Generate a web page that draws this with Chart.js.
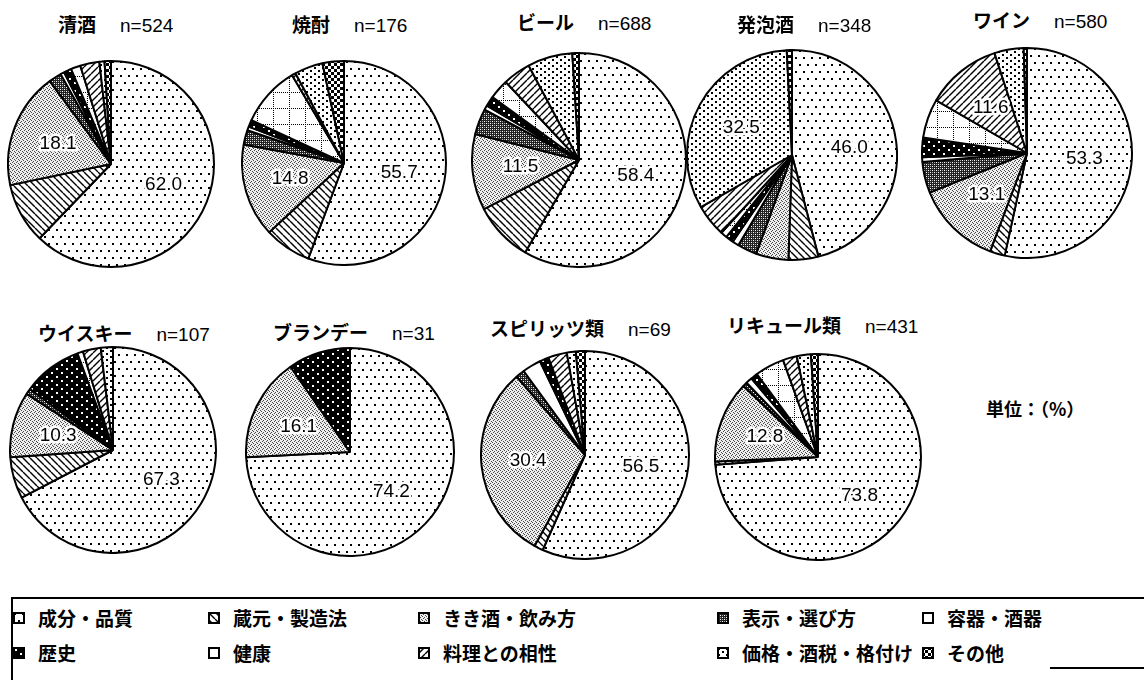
<!DOCTYPE html>
<html lang="ja">
<head>
<meta charset="utf-8">
<title>酒類別 関心のある情報</title>
<script src="https://cdn.jsdelivr.net/npm/chart.js@4.4.1/dist/chart.umd.min.js"></script>
<style>
  html, body { margin: 0; padding: 0; background: #fff; }
  body {
    width: 1144px; height: 680px; position: relative; overflow: hidden;
    font-family: "Noto Sans CJK JP", sans-serif; color: #000;
  }
  .pie { position: absolute; }
  .title {
    position: absolute; font-size: 19px; font-weight: bold;
    white-space: nowrap; line-height: 20px;
  }
  .title .n {
    font-family: "Liberation Sans", Arial, sans-serif; font-weight: normal;
    margin-left: 24px;
  }
  .unit {
    position: absolute; left: 986px; top: 397px;
    font-size: 18px; font-weight: bold; line-height: 22px; white-space: nowrap;
  }
  .legend-box {
    position: absolute; left: 11px; top: 597px; width: 1140px; height: 100px;
    border-top: 2px solid #000; border-left: 2px solid #000;
  }
  .legend-tail {
    position: absolute; left: 1050px; top: 667px; width: 94px; height: 0;
    border-top: 2px solid #000;
  }
  .item {
    position: absolute; height: 24px; line-height: 24px;
    font-size: 19px; font-weight: bold; white-space: nowrap;
  }
  .item canvas { position: absolute; left: 0; top: 6px; }
  .item span { position: absolute; left: 25px; top: 0; }
</style>
</head>
<body>

<script>
// 項目 (凡例の順 = 各円グラフの時計回りの順)
const categories = ['成分・品質', '蔵元・製造法', 'きき酒・飲み方', '表示・選び方', '容器・酒器',
                    '歴史', '健康', '料理との相性', '価格・酒税・格付け', 'その他'];

const drinkNames = ['清酒', '焼酎', 'ビール', '発泡酒', 'ワイン',
                    'ウイスキー', 'ブランデー', 'スピリッツ類', 'リキュール類'];
const sampleSizes = [524, 176, 688, 348, 580, 107, 31, 69, 431];

// 単位：(%)  — 10 項目ずつ
const seishu   = [62.0, 9.5, 18.1, 2.0, 0.6, 1.2, 1.5, 3.0, 0.8, 1.0];
const shochu   = [55.7, 7.4, 14.8, 2.3, 0.6, 1.1, 9.6, 0.6, 4.5, 3.4];
const beer     = [58.4, 9.0, 11.5, 3.9, 0.7, 1.5, 3.0, 4.2, 6.8, 1.0];
const happoshu = [46.0, 4.6, 5.0, 3.0, 1.0, 1.2, 1.0, 5.0, 32.5, 0.8];
const wine     = [53.3, 2.3, 13.1, 4.8, 0.7, 3.0, 6.0, 11.6, 4.5, 0.5];
const whisky   = [67.3, 6.5, 10.3, 0.9, 0, 9.3, 0.9, 2.8, 1.9, 0];
const brandy   = [74.2, 0, 16.1, 0, 0, 9.7, 0, 0, 0, 0];
const spirits  = [56.5, 1.4, 30.4, 1.4, 2.9, 1.4, 0, 2.9, 1.4, 1.4];
const liqueur  = [73.8, 0.5, 12.8, 0.7, 1.0, 1.1, 4.6, 2.2, 2.2, 1.1];

const pieValues = [seishu, shochu, beer, happoshu, wine, whisky, brandy, spirits, liqueur];

// 値ラベルを付けるしきい値 (%)
const labelMin = 10;

// ---- 配置 (円の中心と半径、タイトル位置) ----
const pieLayout = [
  { cx: 111, cy: 164, r: 102, tx: 58,  ty: 14 },
  { cx: 344, cy: 163, r: 101, tx: 292, ty: 14 },
  { cx: 579, cy: 160, r: 106, tx: 517, ty: 12 },
  { cx: 792, cy: 155, r: 104, tx: 737, ty: 14 },
  { cx: 1027, cy: 153, r: 104, tx: 973, ty: 10 },
  { cx: 113, cy: 450, r: 102, tx: 38,  ty: 323 },
  { cx: 350, cy: 452, r: 103, tx: 273, ty: 322 },
  { cx: 585, cy: 455, r: 103, tx: 490, ty: 318 },
  { cx: 818, cy: 457, r: 102, tx: 727, ty: 315 }
];
const legendCols = [13, 208, 418, 717, 922];
const legendRows = [606, 641];

// ---- 網掛けパターン ----
function tile(w, h, draw) {
  const c = document.createElement('canvas');
  c.width = w; c.height = h;
  const g = c.getContext('2d');
  draw(g, w, h);
  return g.createPattern(c, 'repeat');
}
function px(g, color, pts, s) {
  g.fillStyle = color;
  pts.forEach(p => g.fillRect(p[0], p[1], s || 1, s || 1));
}
function diag(g, w, back) {
  g.strokeStyle = '#000'; g.lineWidth = 1.4;
  [-w, 0, w].forEach(o => {
    g.beginPath();
    if (back) { g.moveTo(o, 0); g.lineTo(o + w, w); }
    else { g.moveTo(o, w); g.lineTo(o + w, 0); }
    g.stroke();
  });
}

const patterns = [
  // 成分・品質: 粗い点
  tile(16, 14, g => { g.fillStyle = '#fff'; g.fillRect(0, 0, 16, 14);
    px(g, '#000', [[1, 1], [9, 1], [5, 8], [13, 8]], 2); }),
  // 蔵元・製造法: 右下がり斜線
  tile(7, 7, (g, w) => { g.fillStyle = '#fff'; g.fillRect(0, 0, w, w); diag(g, w, true); }),
  // きき酒・飲み方: 細かい灰色の砂目
  tile(4, 4, g => { g.fillStyle = '#eeeeee'; g.fillRect(0, 0, 4, 4);
    px(g, '#4a4a4a', [[0, 0], [2, 1], [1, 2], [3, 3]]); }),
  // 表示・選び方: 濃い網
  tile(4, 4, g => { g.fillStyle = '#222'; g.fillRect(0, 0, 4, 4);
    px(g, '#fff', [[1, 1], [3, 3]]); px(g, '#aaa', [[3, 1], [1, 3]]); }),
  // 容器・酒器: 白
  '#ffffff',
  // 歴史: 黒地に白点
  tile(10, 8, g => { g.fillStyle = '#000'; g.fillRect(0, 0, 10, 8);
    px(g, '#fff', [[2, 2], [7, 6]], 2); }),
  // 健康: 点線の格子
  tile(16, 16, g => { g.fillStyle = '#fff'; g.fillRect(0, 0, 16, 16);
    for (let i = 0; i < 16; i += 2) { px(g, '#000', [[i, 0], [0, i]]); } }),
  // 料理との相性: 右上がり斜線
  tile(7, 7, (g, w) => { g.fillStyle = '#fff'; g.fillRect(0, 0, w, w); diag(g, w, false); }),
  // 価格・酒税・格付け: 細かい点
  tile(8, 6, g => { g.fillStyle = '#fff'; g.fillRect(0, 0, 8, 6);
    px(g, '#000', [[1, 1], [5, 4]], 2); }),
  // その他: 市松
  tile(6, 6, g => { g.fillStyle = '#fff'; g.fillRect(0, 0, 6, 6);
    g.fillStyle = '#000'; g.fillRect(0, 0, 3, 3); g.fillRect(3, 3, 3, 3); })
];

// 大きい扇形に数値を描く
const valueLabels = {
  id: 'valueLabels',
  afterDatasetsDraw(chart) {
    const ctx = chart.ctx;
    const values = chart.data.datasets[0].data;
    ctx.save();
    ctx.font = '19px "Liberation Sans", Arial, sans-serif';
    ctx.textAlign = 'center';
    ctx.textBaseline = 'middle';
    ctx.lineJoin = 'round';
    chart.getDatasetMeta(0).data.forEach((arc, i) => {
      if (values[i] < labelMin) return;
      const p = arc.getProps(['x', 'y', 'startAngle', 'endAngle', 'outerRadius'], true);
      const mid = (p.startAngle + p.endAngle) / 2;
      const d = p.outerRadius * 0.55;
      const x = p.x + Math.cos(mid) * d;
      const y = p.y + Math.sin(mid) * d;
      const txt = values[i].toFixed(1);
      ctx.lineWidth = 5;
      ctx.strokeStyle = '#fff';
      ctx.strokeText(txt, x, y);
      ctx.fillStyle = '#000';
      ctx.fillText(txt, x, y);
    });
    ctx.restore();
  }
};

function buildPie(idx) {
  const L = pieLayout[idx];
  const size = 2 * L.r + 4;
  const box = document.createElement('div');
  box.className = 'pie';
  box.style.left = (L.cx - size / 2) + 'px';
  box.style.top = (L.cy - size / 2) + 'px';
  const cv = document.createElement('canvas');
  cv.width = size; cv.height = size;
  cv.style.width = size + 'px'; cv.style.height = size + 'px';
  box.appendChild(cv);
  document.body.appendChild(box);

  new Chart(cv.getContext('2d'), {
    type: 'pie',
    data: {
      labels: categories,
      datasets: [{
        data: pieValues[idx],
        backgroundColor: patterns,
        borderColor: '#000',
        borderWidth: 2
      }]
    },
    options: {
      responsive: false,
      animation: false,
      events: [],
      layout: { padding: 0 },
      plugins: { legend: { display: false }, tooltip: { enabled: false } }
    },
    plugins: [valueLabels]
  });

  const t = document.createElement('div');
  t.className = 'title';
  t.style.left = L.tx + 'px';
  t.style.top = L.ty + 'px';
  t.innerHTML = drinkNames[idx] + '<span class="n">n=' + sampleSizes[idx] + '</span>';
  document.body.appendChild(t);
}

function buildLegend() {
  const box = document.createElement('div');
  box.className = 'legend-box';
  document.body.appendChild(box);
  const tail = document.createElement('div');
  tail.className = 'legend-tail';
  document.body.appendChild(tail);

  categories.forEach((name, i) => {
    const item = document.createElement('div');
    item.className = 'item';
    item.style.left = legendCols[i % 5] + 'px';
    item.style.top = legendRows[Math.floor(i / 5)] + 'px';
    const ic = document.createElement('canvas');
    ic.width = 12; ic.height = 12;
    const g = ic.getContext('2d');
    g.fillStyle = patterns[i];
    g.fillRect(0, 0, 12, 12);
    g.strokeStyle = '#000'; g.lineWidth = 2;
    g.strokeRect(1, 1, 10, 10);
    const s = document.createElement('span');
    s.textContent = name;
    item.appendChild(ic);
    item.appendChild(s);
    document.body.appendChild(item);
  });
}

document.addEventListener('DOMContentLoaded', function() {
  pieValues.forEach((_, i) => buildPie(i));
  buildLegend();
  const u = document.createElement('div');
  u.className = 'unit';
  u.textContent = '単位：（%）';
  document.body.appendChild(u);
});
</script>
</body>
</html>
